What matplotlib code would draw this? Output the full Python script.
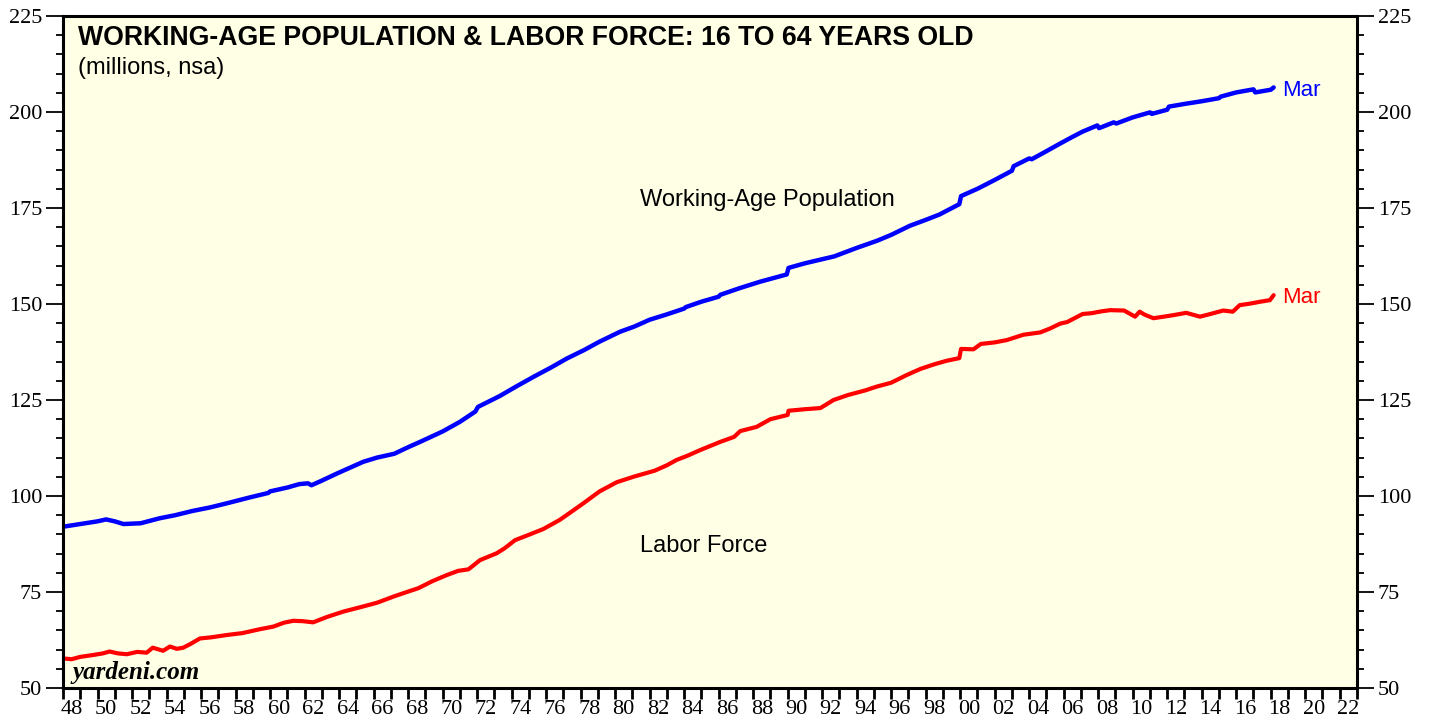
import matplotlib
matplotlib.use("Agg")
import matplotlib.pyplot as plt
from matplotlib.ticker import FixedLocator, NullFormatter, FixedFormatter

# ---- data (millions) ----
pop_years = [1948.0, 1949.0, 1950.0, 1950.5, 1951.0, 1951.5, 1952.5, 1953.6, 1954.5, 1955.5,
             1956.5, 1957.5, 1958.8, 1959.9, 1960.0, 1961.0, 1961.7, 1962.2, 1962.4, 1963.0,
             1963.9, 1965.4, 1966.2, 1967.2, 1968.0, 1968.7, 1970.0, 1971.0, 1971.9, 1972.05,
             1973.3, 1974.3, 1975.3, 1976.3, 1977.2, 1978.2, 1979.1, 1980.3, 1981.1, 1982.0,
             1983.0, 1984.0, 1984.1, 1985.0, 1986.0, 1986.1, 1987.2, 1988.4, 1989.95, 1990.05,
             1991.0, 1992.7, 1994.0, 1995.2, 1996.0, 1997.1, 1998.0, 1998.8, 1999.95, 2000.05,
             2001.0, 2002.0, 2003.0, 2003.1, 2004.0, 2004.15, 2005.0, 2005.8, 2006.5, 2007.1,
             2007.95, 2008.05, 2008.9, 2009.05, 2010.0, 2011.0, 2011.1, 2012.0, 2012.1, 2013.0,
             2014.0, 2015.0, 2015.1, 2016.0, 2017.0, 2017.1, 2018.0, 2018.17]
pop_values = [92.0, 92.7, 93.4, 93.9, 93.4, 92.7, 92.9, 94.2, 95.0, 96.1,
              97.0, 98.1, 99.6, 100.8, 101.2, 102.2, 103.1, 103.3, 102.8, 104.0,
              105.9, 108.9, 110.0, 111.0, 112.7, 114.1, 116.8, 119.3, 122.0, 123.2,
              126.0, 128.6, 131.1, 133.5, 135.8, 138.0, 140.2, 142.8, 144.1, 145.9,
              147.3, 148.8, 149.2, 150.6, 151.9, 152.4, 154.1, 155.8, 157.7, 159.4,
              160.6, 162.4, 164.6, 166.5, 168.0, 170.4, 171.9, 173.3, 176.0, 178.1,
              180.0, 182.3, 184.7, 185.9, 187.9, 187.7, 189.8, 191.8, 193.5, 194.9,
              196.5, 195.8, 197.3, 197.0, 198.6, 199.9, 199.5, 200.6, 201.4, 202.1,
              202.8, 203.6, 204.0, 205.1, 205.9, 205.1, 205.8, 206.4]

lf_years = [1948.0, 1948.5, 1949.0, 1949.75, 1950.3, 1950.7, 1951.2, 1951.7, 1952.3, 1952.85,
            1953.2, 1953.8, 1954.2, 1954.6, 1954.97, 1955.4, 1955.94, 1956.6, 1957.5, 1958.4,
            1959.4, 1960.2, 1960.8, 1961.35, 1961.9, 1962.5, 1963.3, 1964.25, 1965.2, 1966.2,
            1967.15, 1967.8, 1968.6, 1969.4, 1970.24, 1970.9, 1971.5, 1972.17, 1973.14, 1973.6,
            1974.2, 1975.0, 1975.84, 1976.8, 1977.5, 1978.16, 1979.1, 1980.1, 1981.06, 1981.6,
            1982.3, 1983.0, 1983.57, 1984.2, 1984.9, 1986.1, 1986.9, 1987.25, 1988.2, 1989.0,
            1990.0, 1990.05, 1991.0, 1991.9, 1992.66, 1993.5, 1994.5, 1995.17, 1996.0, 1996.9,
            1997.7, 1998.5, 1999.2, 1999.95, 2000.05, 2000.77, 2001.2, 2002.0, 2002.7, 2003.67,
            2004.64, 2005.2, 2005.8, 2006.2, 2007.1, 2007.6, 2008.2, 2008.7, 2009.5, 2010.14,
            2010.4, 2010.7, 2011.2, 2011.8, 2012.36, 2013.1, 2013.9, 2014.5, 2015.25, 2015.8,
            2016.2, 2016.8, 2017.4, 2017.95, 2018.17]
lf_values = [57.7, 57.5, 58.1, 58.6, 59.0, 59.5, 59.0, 58.8, 59.4, 59.2,
             60.5, 59.7, 60.8, 60.2, 60.5, 61.5, 62.9, 63.2, 63.8, 64.3,
             65.3, 66.0, 67.0, 67.5, 67.4, 67.1, 68.5, 69.9, 71.0, 72.2,
             73.8, 74.8, 76.0, 77.8, 79.4, 80.5, 80.9, 83.3, 85.1, 86.4,
             88.5, 89.9, 91.4, 93.8, 96.0, 98.1, 101.2, 103.6, 105.0, 105.7,
             106.6, 108.0, 109.4, 110.5, 111.9, 114.1, 115.4, 116.9, 118.0, 120.0,
             121.1, 122.2, 122.6, 122.9, 125.0, 126.3, 127.5, 128.5, 129.5, 131.5,
             133.1, 134.3, 135.2, 135.9, 138.3, 138.2, 139.6, 140.0, 140.6, 142.0,
             142.6, 143.6, 144.9, 145.3, 147.4, 147.6, 148.1, 148.4, 148.3, 146.7,
             148.0, 147.2, 146.3, 146.7, 147.1, 147.7, 146.7, 147.4, 148.3, 148.0,
             149.7, 150.1, 150.6, 151.0, 152.3]

x_label_years = list(range(1948, 2023, 2))
x_tick_labels = ["%02d" % (y % 100) for y in x_label_years]
y_ticks = [50, 75, 100, 125, 150, 175, 200, 225]

BLUE = "#0000FF"
RED = "#FF0000"

fig = plt.figure(figsize=(14.29, 7.19), dpi=100)
ax = fig.add_axes([63/1429, 1-688/719, (1357-63)/1429, (688-16)/719])
ax.set_facecolor("#FFFFE6")

ax.plot(pop_years, pop_values, color=BLUE, lw=3.2, solid_joinstyle="round", solid_capstyle="round")
ax.plot(lf_years, lf_values, color=RED, lw=3.0, solid_joinstyle="round", solid_capstyle="round")

ax.set_xlim(1948, 2023)
ax.set_ylim(50, 225)

for s in ax.spines.values():
    s.set_linewidth(2.2)
    s.set_color("black")

serif = "Liberation Serif"
sans = "Liberation Sans"

# y ticks both sides
ax.yaxis.set_major_locator(FixedLocator(y_ticks))
ax.yaxis.set_minor_locator(FixedLocator([v for v in range(50, 226, 5) if v % 25]))
ax.tick_params(axis="y", which="major", direction="out", length=12, width=1.3,
               left=True, right=True, labelleft=True, labelright=True, labelsize=16, pad=3)
ax.tick_params(axis="y", which="minor", direction="out", length=5, width=1.3,
               left=True, right=True)
for lab in ax.get_yticklabels():
    lab.set_fontfamily(serif)

# x ticks: yearly ticks, labels at mid-year of even years
ax.xaxis.set_major_locator(FixedLocator(list(range(1948, 2024))))
ax.xaxis.set_major_formatter(NullFormatter())
ax.xaxis.set_minor_locator(FixedLocator([y + 0.5 for y in x_label_years]))
ax.xaxis.set_minor_formatter(FixedFormatter(x_tick_labels))
ax.tick_params(axis="x", which="major", direction="out", length=8, width=2.0, bottom=True, top=False)
ax.tick_params(axis="x", which="minor", length=0, labelsize=16, pad=9)
for lab in ax.get_xticklabels(minor=True):
    lab.set_fontfamily(serif)

# texts
fig.text(78/1429, 1-38/719, "WORKING-AGE POPULATION & LABOR FORCE: 16 TO 64 YEARS OLD",
         fontfamily=sans, fontweight="bold", fontsize=19.2, va="center", ha="left")
fig.text(78/1429, 1-68/719, "(millions, nsa)", fontfamily=sans, fontsize=17,
         va="center", ha="left")
fig.text(640/1429, 1-200/719, "Working-Age Population", fontfamily=sans, fontsize=17,
         va="center", ha="left")
fig.text(640/1429, 1-546/719, "Labor Force", fontfamily=sans, fontsize=17,
         va="center", ha="left")
ax.annotate("Mar", xy=(pop_years[-1], pop_values[-1]), xytext=(6, -2), textcoords="offset points",
            color=BLUE, fontfamily=sans, fontsize=16, va="center", ha="left")
ax.annotate("Mar", xy=(lf_years[-1], lf_values[-1]), xytext=(6, -2), textcoords="offset points",
            color=RED, fontfamily=sans, fontsize=16, va="center", ha="left")
fig.text(73/1429, 1-673/719, "yardeni.com", fontfamily=serif, fontweight="bold",
         fontstyle="italic", fontsize=18, va="center", ha="left")

fig.savefig("out.png", dpi=100)
